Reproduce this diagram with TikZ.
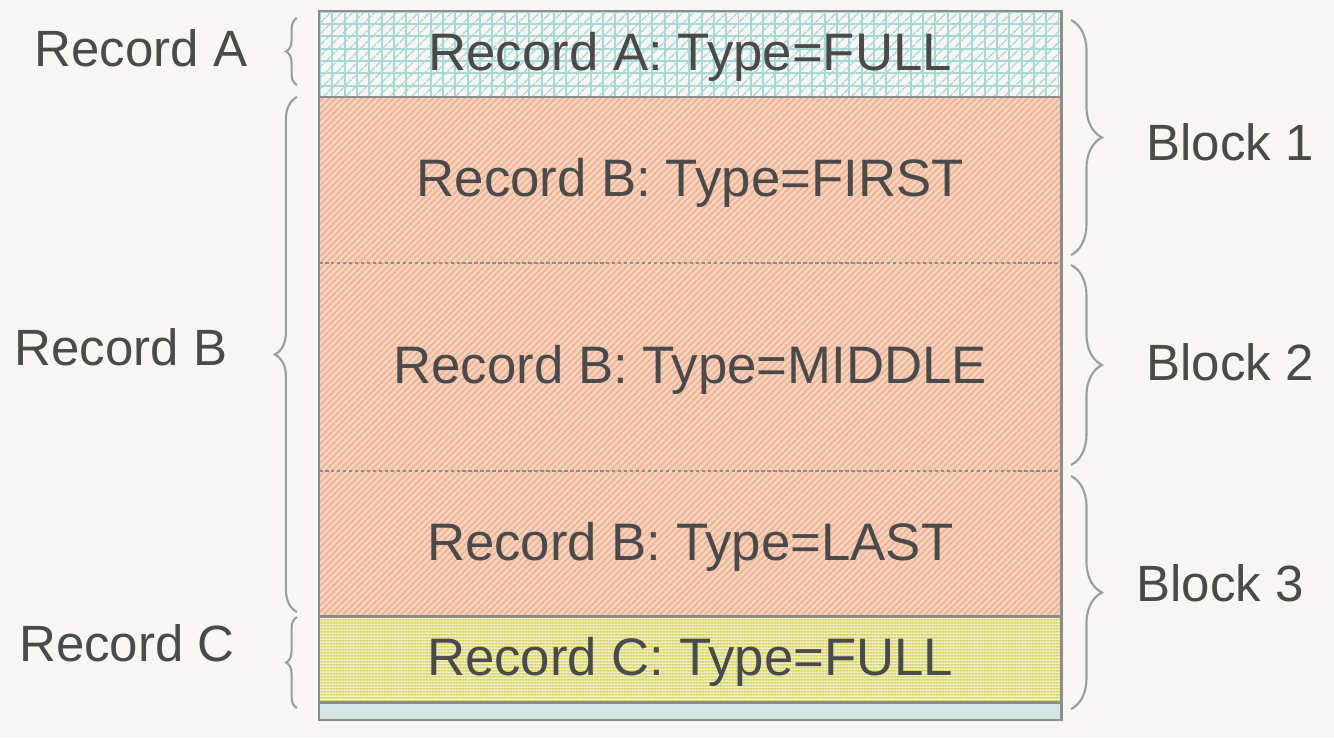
\documentclass[tikz,border=0pt]{standalone}
\usepackage{fontspec}
\setmainfont{Liberation Sans}
\usetikzlibrary{positioning}
\usetikzlibrary{patterns.meta}
\usetikzlibrary{decorations.pathreplacing}

\definecolor{bgcol}{HTML}{F7F6F2}
\definecolor{textcol}{HTML}{4A4A4A}
\definecolor{framecol}{HTML}{8C8C8C}
\definecolor{bracecol}{HTML}{9C9C9C}
\definecolor{gridcol}{HTML}{A8D8D6}
\definecolor{peach}{HTML}{F7D2BE}
\definecolor{peachline}{HTML}{EEB092}
\definecolor{lime}{HTML}{F4F2D2}
\definecolor{limeline}{HTML}{D8D468}
\definecolor{stripcol}{HTML}{D4E7E6}

\begin{document}
\begin{tikzpicture}[
    x=0.01cm, y=-0.01cm,
    every node/.style={font=\fontsize{14.5}{17}\selectfont, text=textcol},
    record/.style={rectangle, minimum width=7.42cm, inner sep=0pt, outer sep=0pt,
        font=\fontsize{15}{18}\selectfont, text height=12.6pt, text depth=3.2pt},
    fullA/.style={record, fill=bgcol,
        postaction={pattern={Lines[angle=0,distance=3.5pt,line width=0.55pt]}, pattern color=gridcol},
        postaction={pattern={Lines[angle=90,distance=3.5pt,line width=0.55pt]}, pattern color=gridcol},
        postaction={pattern={Lines[angle=45,distance=2.47pt,line width=0.45pt]}, pattern color=gridcol}},
    partB/.style={record, fill=peach,
        postaction={pattern={Lines[angle=45,distance=1.3pt,line width=0.45pt]}, pattern color=peachline}},
    fullC/.style={record, fill=lime,
        postaction={pattern={Lines[angle=0,distance=0.9pt,line width=0.62pt]}, pattern color=limeline}},
    frame/.style={draw=framecol, line width=0.6pt},
    curly/.style={decorate, decoration={brace, amplitude=#1}, draw=bracecol, line width=0.6pt}
]

% Nodes
\useasboundingbox[fill=bgcol] (0,0) rectangle (1334,738);
\node[fullA, minimum height=0.86cm, anchor=north west] (recA) at (319,11) {Record A: Type=FULL};
\node[partB, minimum height=1.66cm, below=0pt of recA] (recB1) {Record B: Type=FIRST};
\node[partB, minimum height=2.08cm, below=0pt of recB1] (recB2) {Record B: Type=MIDDLE};
\node[partB, minimum height=1.45cm, below=0pt of recB2] (recB3) {Record B: Type=LAST};
\node[fullC, minimum height=0.86cm, below=0pt of recB3] (recC) {Record C: Type=FULL};
\node[record, fill=stripcol, minimum height=0.18cm, text height=0pt, text depth=0pt, below=0pt of recC] (strip) {};

\node (labA) at (141,48) {Record A};
\node (labB) at (121,347) {Record B};
\node (labC) at (127,643) {Record C};
\node (blk1) at (1230,142) {Block 1};
\node (blk2) at (1230,362) {Block 2};
\node (blk3) at (1220,583) {Block 3};

% Lines
\draw[frame] (recA.south west) -- (recA.south east);
\draw[frame, dash pattern=on 1pt off 0.7pt] (recB1.south west) -- (recB1.south east);
\draw[frame, dash pattern=on 1pt off 0.7pt] (recB2.south west) -- (recB2.south east);
\draw[frame, line width=0.9pt] (recB3.south west) -- (recB3.south east);
\draw[frame, line width=0.9pt] (recC.south west) -- (recC.south east);
\draw[frame] (recA.north west) rectangle (strip.south east);

% Braces
\draw[curly=3.1pt] (297,85) -- (297,18);
\draw[curly=6.3pt] (297,612) -- (297,97);
\draw[curly=3.1pt] (297,708) -- (297,617);
\draw[curly=8.8pt] (1071,20) -- (1071,255);
\draw[curly=8.8pt] (1071,265) -- (1071,465);
\draw[curly=8.8pt] (1071,476) -- (1071,709);

\end{tikzpicture}
\end{document}
